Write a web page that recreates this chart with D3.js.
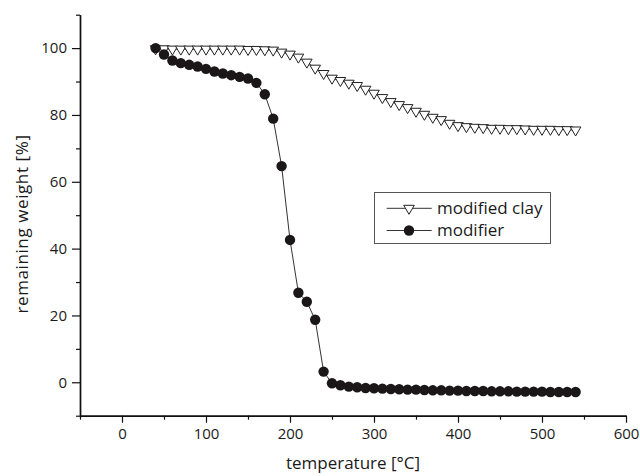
<!DOCTYPE html>
<html>
<head>
<meta charset="utf-8">
<script src="https://cdn.jsdelivr.net/npm/d3@7"></script>
<style>
  html, body { margin: 0; padding: 0; background: #fff; }
  svg { display: block; }
  text { font-family: "Open Sans", "Noto Sans", sans-serif; fill: #1a1a1a; }
</style>
</head>
<body>
<svg id="chart" width="640" height="476"></svg>
<script>
// ---- data ----
const temperature = [40,50,60,70,80,90,100,110,120,130,140,150,160,170,180,190,200,210,220,230,240,250,260,270,280,290,300,310,320,330,340,350,360,370,380,390,400,410,420,430,440,450,460,470,480,490,500,510,520,530,540];
const modifiedClay = [99.8,99.8,99.7,99.7,99.7,99.7,99.7,99.7,99.7,99.7,99.7,99.6,99.6,99.5,99.4,98.8,98.2,97.3,95.8,94.0,92.4,91.0,90.3,89.5,88.8,87.7,86.5,85.2,84.0,83.1,82.2,81.1,80.2,79.3,78.6,77.5,76.8,76.5,76.3,76.2,76.0,76.0,75.9,75.9,75.8,75.7,75.7,75.7,75.6,75.6,75.5];
const modifier = [100,98.1,96.3,95.5,95.0,94.5,93.8,93.0,92.4,91.9,91.4,90.9,89.6,86.2,78.9,64.7,42.6,26.8,24.1,18.7,3.2,-0.3,-0.9,-1.3,-1.5,-1.7,-1.8,-1.9,-2.0,-2.1,-2.2,-2.2,-2.3,-2.4,-2.4,-2.5,-2.5,-2.6,-2.6,-2.6,-2.7,-2.7,-2.7,-2.8,-2.8,-2.8,-2.8,-2.9,-2.9,-2.9,-2.9];
const seriesNames = ["modified clay", "modifier"];
const xMajorTicks = [0,100,200,300,400,500,600];
const xMinorTicks = [-50,50,150,250,350,450,550];
const yMajorTicks = [0,20,40,60,80,100];
const yMinorTicks = [-10,10,30,50,70,90,110];
const xTitle = "temperature [°C]";
const yTitle = "remaining weight [%]";

// ---- drawing ----
const svg = d3.select("#chart");
const x = d3.scaleLinear().domain([-50, 600]).range([80, 626]);
const y = d3.scaleLinear().domain([-10, 110]).range([415.7, 14.7]);

const axisColor = "#111";
function styleAxis(g) {
  g.selectAll("path.domain").attr("stroke", axisColor).attr("stroke-width", 1.4);
  g.selectAll(".tick line").attr("stroke", axisColor).attr("stroke-width", 1.2);
  g.selectAll(".tick text").attr("font-family", "'Open Sans', sans-serif").attr("font-size", 15).attr("fill", "#1a1a1a");
}

// minor ticks
svg.append("g").attr("transform", `translate(0,${y(-10)})`)
  .call(d3.axisBottom(x).tickValues(xMinorTicks).tickSize(4).tickSizeOuter(0).tickFormat(""))
  .call(styleAxis);
svg.append("g").attr("transform", `translate(${x(-50)},0)`)
  .call(d3.axisLeft(y).tickValues(yMinorTicks).tickSize(4).tickSizeOuter(0).tickFormat(""))
  .call(styleAxis);
// major ticks
svg.append("g").attr("transform", `translate(0,${y(-10)})`)
  .call(d3.axisBottom(x).tickValues(xMajorTicks).tickSize(7).tickSizeOuter(0).tickPadding(6).tickFormat(d3.format("d")))
  .call(styleAxis);
svg.append("g").attr("transform", `translate(${x(-50)},0)`)
  .call(d3.axisLeft(y).tickValues(yMajorTicks).tickSize(8).tickSizeOuter(0).tickPadding(5).tickFormat(d3.format("d")))
  .call(styleAxis);

// axis titles
svg.append("text").attr("x", (x(-50) + x(600)) / 2).attr("y", 469)
  .attr("text-anchor", "middle").attr("font-size", 17).text(xTitle);
svg.append("text").attr("transform", `translate(28,224) rotate(-90)`)
  .attr("text-anchor", "middle").attr("font-size", 17).attr("letter-spacing", 0.6).text(yTitle);

const clayData = temperature.map((t, i) => [t, modifiedClay[i]]);
const modData = temperature.map((t, i) => [t, modifier[i]]);
const line = d3.line().x(d => x(d[0])).y(d => y(d[1]));

const triPath = "M-5.3,-3L5.3,-3L0,6Z";

// modified clay
svg.append("path").datum(clayData).attr("d", line)
  .attr("fill", "none").attr("stroke", "#333").attr("stroke-width", 1);
svg.append("g").selectAll("path").data(clayData).join("path")
  .attr("d", triPath)
  .attr("transform", d => `translate(${x(d[0])},${y(d[1])})`)
  .attr("fill", "#fff").attr("stroke", "#222").attr("stroke-width", 1);

// modifier
svg.append("path").datum(modData).attr("d", line)
  .attr("fill", "none").attr("stroke", "#333").attr("stroke-width", 1);
svg.append("g").selectAll("circle").data(modData).join("circle")
  .attr("cx", d => x(d[0])).attr("cy", d => y(d[1])).attr("r", 5.2)
  .attr("fill", "#1b1718");

// legend
const lg = svg.append("g");
lg.append("rect").attr("x", 374.5).attr("y", 192.5).attr("width", 176).attr("height", 51)
  .attr("fill", "#fff").attr("stroke", "#555").attr("stroke-width", 1);
const rows = [208.3, 230.5];
seriesNames.forEach((name, i) => {
  const yy = rows[i];
  lg.append("line").attr("x1", 386.7).attr("x2", 431.7).attr("y1", yy).attr("y2", yy)
    .attr("stroke", "#333").attr("stroke-width", 1);
  if (i === 0) {
    lg.append("path").attr("d", triPath).attr("transform", `translate(409,${yy})`)
      .attr("fill", "#fff").attr("stroke", "#222").attr("stroke-width", 1);
  } else {
    lg.append("circle").attr("cx", 409).attr("cy", yy).attr("r", 5.2).attr("fill", "#1b1718");
  }
  lg.append("text").attr("x", 437).attr("y", yy).attr("dy", "0.35em")
    .attr("font-size", 17).text(name);
});
</script>
</body>
</html>
